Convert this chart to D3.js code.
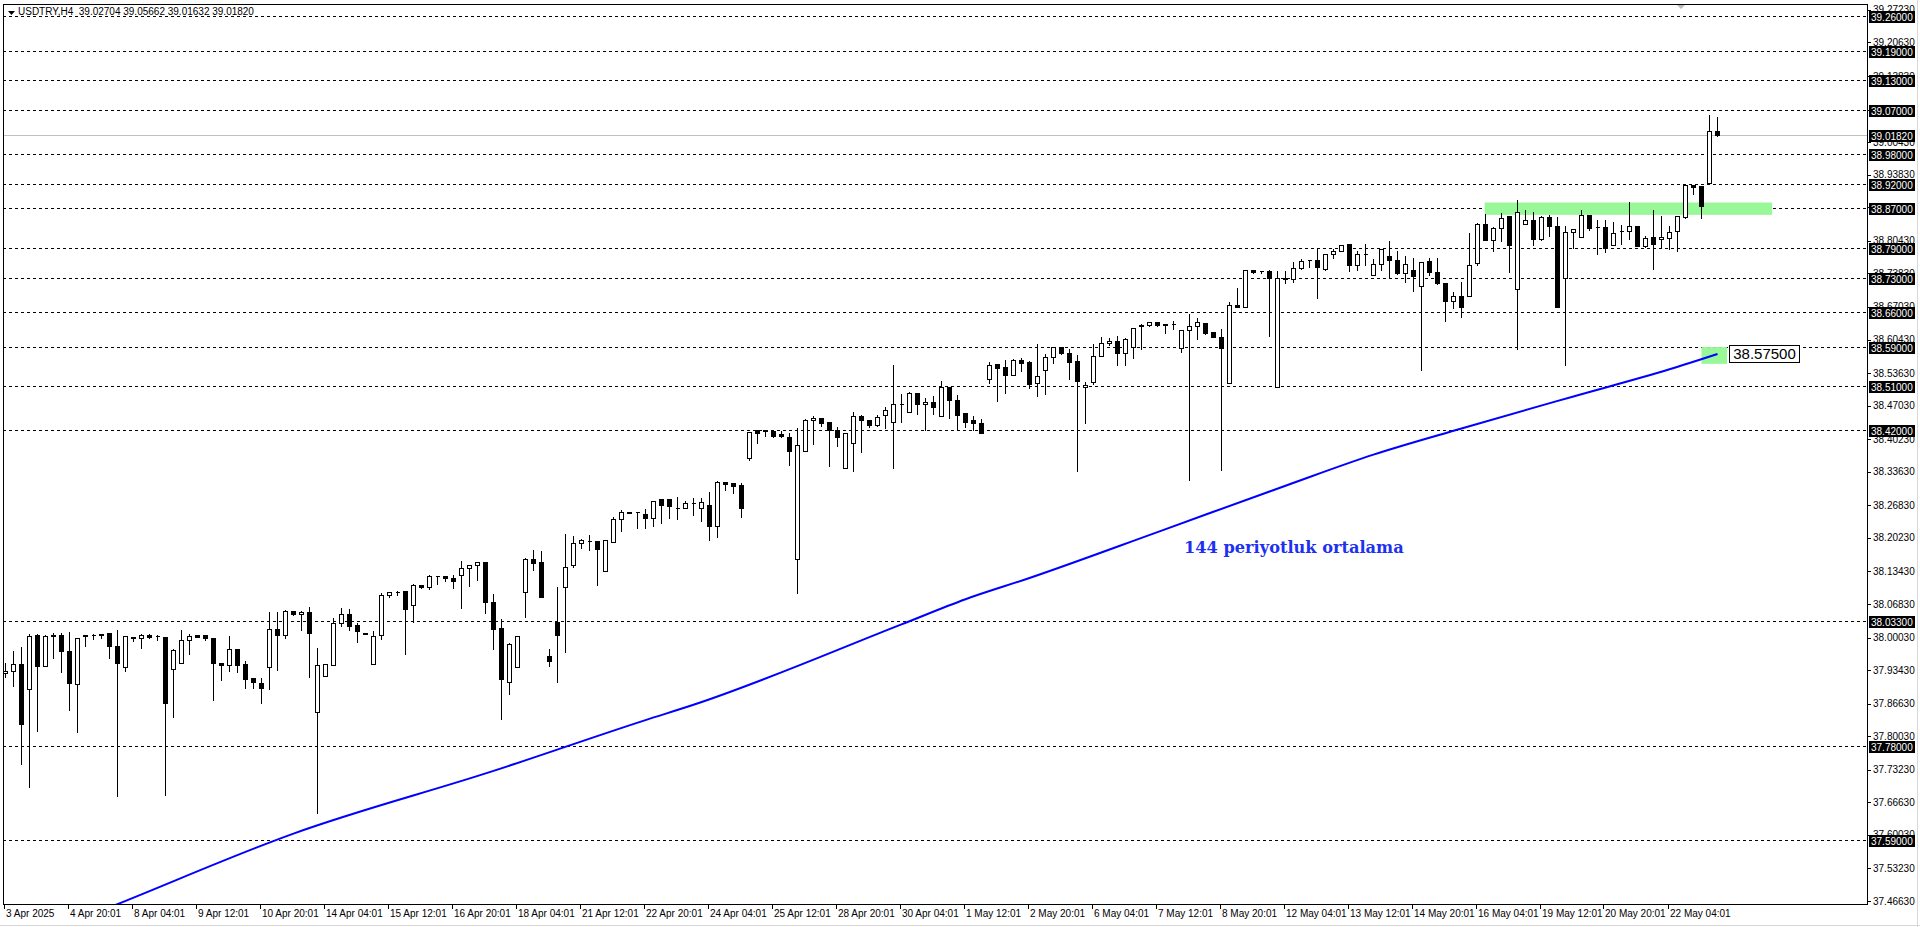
<!DOCTYPE html>
<html><head><meta charset="utf-8">
<script src="https://cdn.jsdelivr.net/npm/d3@7"></script>
<style>html,body{margin:0;padding:0;background:#fff;overflow:hidden}svg{display:block}</style>
</head><body><svg id="c" width="1920" height="927"></svg>
<script>
// ---------- DATA (USDTRY, H4) ----------
const symbolTitle = "USDTRY,H4";
const open = [
37.928,37.932,37.946,37.896,38.006,37.942,38.004,38.006,37.974,37.906,
38.004,38.005,38.008,38.009,37.984,37.940,38.002,38.000,38.005,38.003,
38.002,37.937,37.949,37.996,38.005,38.005,38.000,37.948,37.945,37.977,
37.946,37.918,37.909,37.940,38.018,38.006,38.055,38.048,38.052,37.850,
37.923,37.945,38.030,38.048,38.025,38.010,37.947,38.005,38.087,38.093,
38.094,38.067,38.107,38.102,38.125,38.125,38.121,38.127,38.142,38.148,
38.153,38.073,38.019,37.910,37.941,38.093,38.160,38.153,37.962,38.032,
38.102,38.148,38.192,38.196,38.196,38.136,38.194,38.241,38.255,38.254,
38.251,38.243,38.282,38.282,38.263,38.263,38.272,38.263,38.268,38.226,
38.316,38.313,38.309,38.364,38.420,38.418,38.419,38.412,38.407,38.159,
38.378,38.442,38.446,38.437,38.420,38.343,38.395,38.450,38.442,38.431,
38.451,38.438,38.474,38.458,38.495,38.474,38.478,38.450,38.509,38.482,
38.455,38.441,38.436,38.525,38.554,38.548,38.533,38.562,38.558,38.516,
38.543,38.568,38.590,38.576,38.560,38.509,38.518,38.570,38.598,38.602,
38.576,38.590,38.633,38.633,38.639,38.635,38.635,38.587,38.624,38.631,
38.637,38.619,38.610,38.517,38.675,38.671,38.745,38.743,38.743,38.509,
38.729,38.727,38.750,38.765,38.765,38.748,38.777,38.783,38.797,38.756,
38.777,38.736,38.758,38.773,38.766,38.740,38.746,38.712,38.764,38.742,
38.718,38.683,38.693,38.693,38.760,38.839,38.807,38.830,38.854,38.706,
38.839,38.846,38.809,38.852,38.835,38.728,38.823,38.813,38.856,38.832,
38.832,38.795,38.824,38.825,38.835,38.793,38.812,38.808,38.811,38.825,
38.853,38.917,38.915,38.921,39.02704];
const high = [
37.950,37.976,37.984,38.009,38.009,38.008,38.011,38.011,38.013,38.001,
38.006,38.009,38.009,38.010,38.018,38.006,38.003,38.010,38.009,38.008,
38.003,37.980,38.017,38.010,38.006,38.008,38.001,37.948,38.006,37.978,
37.954,37.921,37.921,38.055,38.055,38.058,38.056,38.056,38.065,37.982,
37.947,38.042,38.062,38.061,38.031,38.010,38.016,38.092,38.094,38.096,
38.096,38.111,38.108,38.130,38.128,38.128,38.129,38.157,38.150,38.156,
38.155,38.091,38.039,37.992,38.004,38.164,38.179,38.177,37.980,38.105,
38.212,38.209,38.203,38.211,38.198,38.199,38.246,38.261,38.257,38.256,
38.262,38.280,38.283,38.283,38.288,38.280,38.285,38.285,38.297,38.319,
38.317,38.315,38.315,38.417,38.421,38.421,38.420,38.420,38.416,38.428,
38.446,38.451,38.447,38.439,38.430,38.415,38.459,38.453,38.443,38.454,
38.469,38.554,38.495,38.499,38.498,38.487,38.491,38.522,38.510,38.493,
38.457,38.451,38.446,38.560,38.555,38.564,38.566,38.568,38.562,38.598,
38.576,38.591,38.591,38.588,38.575,38.520,38.597,38.611,38.610,38.613,
38.609,38.628,38.637,38.641,38.640,38.636,38.643,38.625,38.659,38.650,
38.639,38.622,38.628,38.683,38.710,38.747,38.746,38.746,38.748,38.745,
38.745,38.764,38.769,38.767,38.791,38.778,38.789,38.797,38.798,38.785,
38.799,38.769,38.790,38.807,38.785,38.775,38.771,38.763,38.771,38.771,
38.719,38.702,38.723,38.822,38.843,38.860,38.834,38.862,38.857,38.890,
38.868,38.864,38.856,38.858,38.854,38.837,38.830,38.868,38.857,38.848,
38.849,38.844,38.839,38.885,38.836,38.816,38.868,38.856,38.836,38.855,
38.919,38.918,38.916,39.061,39.05662];
const low = [
37.920,37.903,37.744,37.697,37.810,37.942,37.959,37.930,37.854,37.808,
37.983,37.998,38.000,37.959,37.679,37.932,37.993,37.979,37.999,37.996,
37.681,37.839,37.949,37.967,38.001,37.996,37.874,37.915,37.933,37.931,
37.898,37.898,37.868,37.896,37.935,38.000,38.046,38.016,37.920,37.645,
37.923,37.945,38.023,38.015,37.991,38.007,37.947,37.997,38.082,38.086,
37.967,38.032,38.100,38.098,38.109,38.115,38.100,38.060,38.104,38.116,
38.050,37.977,37.835,37.885,37.941,38.042,38.137,38.082,37.942,37.910,
37.971,38.143,38.182,38.178,38.107,38.136,38.194,38.217,38.252,38.222,
38.222,38.226,38.232,38.242,38.240,38.263,38.248,38.236,38.199,38.205,
38.299,38.293,38.244,38.361,38.395,38.409,38.407,38.407,38.350,38.090,
38.378,38.393,38.429,38.348,38.389,38.343,38.338,38.376,38.428,38.429,
38.425,38.344,38.437,38.458,38.453,38.420,38.453,38.450,38.445,38.420,
38.428,38.420,38.415,38.517,38.480,38.496,38.533,38.541,38.507,38.490,
38.494,38.557,38.574,38.524,38.338,38.435,38.515,38.570,38.593,38.553,
38.553,38.567,38.586,38.631,38.632,38.618,38.626,38.579,38.320,38.606,
38.616,38.610,38.340,38.517,38.670,38.671,38.740,38.740,38.612,38.509,
38.718,38.721,38.748,38.752,38.689,38.746,38.769,38.783,38.744,38.746,
38.756,38.736,38.746,38.728,38.737,38.720,38.703,38.543,38.736,38.716,
38.642,38.669,38.650,38.693,38.756,38.807,38.784,38.804,38.741,38.586,
38.839,38.796,38.806,38.814,38.670,38.553,38.789,38.813,38.827,38.777,
38.782,38.795,38.797,38.809,38.793,38.791,38.748,38.792,38.787,38.784,
38.851,38.899,38.850,38.921,39.01632];
const close = [
37.932,37.946,37.825,38.004,37.942,38.004,38.005,37.973,37.908,38.000,
38.005,38.006,38.005,37.983,37.949,38.004,37.999,38.006,38.001,38.003,
37.867,37.975,37.996,38.003,38.002,37.999,37.949,37.945,37.977,37.945,
37.916,37.910,37.898,38.018,38.006,38.054,38.048,38.052,38.010,37.945,
37.947,38.030,38.048,38.023,38.013,38.007,38.004,38.087,38.093,38.093,
38.058,38.107,38.102,38.125,38.125,38.121,38.115,38.142,38.148,38.153,
38.072,38.017,37.916,37.988,38.004,38.160,38.151,38.082,37.952,38.005,
38.144,38.192,38.197,38.196,38.180,38.198,38.241,38.255,38.253,38.254,
38.243,38.278,38.269,38.267,38.262,38.274,38.272,38.276,38.226,38.316,
38.311,38.307,38.263,38.416,38.415,38.420,38.409,38.409,38.378,38.391,
38.442,38.446,38.435,38.420,38.407,38.414,38.450,38.442,38.431,38.448,
38.462,38.474,38.474,38.495,38.474,38.478,38.468,38.509,38.482,38.451,
38.437,38.435,38.415,38.553,38.547,38.533,38.562,38.557,38.515,38.531,
38.568,38.590,38.576,38.559,38.520,38.513,38.570,38.598,38.602,38.576,
38.606,38.627,38.631,38.639,38.633,38.633,38.635,38.624,38.631,38.639,
38.618,38.610,38.588,38.675,38.670,38.745,38.741,38.743,38.729,38.728,
38.726,38.750,38.764,38.765,38.752,38.777,38.783,38.796,38.756,38.777,
38.777,38.758,38.787,38.766,38.739,38.758,38.733,38.762,38.741,38.718,
38.683,38.693,38.670,38.756,38.839,38.807,38.830,38.850,38.795,38.862,
38.846,38.808,38.852,38.835,38.670,38.823,38.829,38.856,38.831,38.832,
38.790,38.821,38.825,38.835,38.793,38.811,38.798,38.812,38.823,38.854,
38.917,38.913,38.875,39.027,39.01820];

// time-axis labels (one every 8 bars)
const xLabels = ["3 Apr 2025","4 Apr 20:01","8 Apr 04:01","9 Apr 12:01","10 Apr 20:01","14 Apr 04:01",
 "15 Apr 12:01","16 Apr 20:01","18 Apr 04:01","21 Apr 12:01","22 Apr 20:01","24 Apr 04:01",
 "25 Apr 12:01","28 Apr 20:01","30 Apr 04:01","1 May 12:01","2 May 20:01","6 May 04:01",
 "7 May 12:01","8 May 20:01","12 May 04:01","13 May 12:01","14 May 20:01","16 May 04:01",
 "19 May 12:01","20 May 20:01","22 May 04:01"];
const xLabelStep = 8;

// price scale labels
const priceTicks = [39.2723,39.2063,39.1383,39.0703,39.0043,38.9383,38.8723,38.8043,38.7383,38.6703,
 38.6043,38.5363,38.4703,38.4023,38.3363,38.2683,38.2023,38.1343,38.0683,38.0003,37.9343,37.8663,
 37.8003,37.7323,37.6663,37.6003,37.5323,37.4663];

// horizontal levels (dashed)
const levels = [39.26,39.19,39.13,39.07,38.98,38.92,38.87,38.79,38.73,38.66,38.59,38.51,38.42,38.033,37.78,37.59];
const lastPrice = 39.0182;

// 144-period moving average, read at bar positions
const maBar = [10,14,36,61,80,86,112,120,128,144,160,171,182,196,208,214];
const maVal = [37.434,37.460,37.603,37.730,37.833,37.864,38.027,38.078,38.121,38.214,38.308,38.371,38.424,38.489,38.544,38.575];
const maText = "144 periyotluk ortalama";
const maLabel = 38.575;

// highlighted zones: [barFrom, barTo, priceTop, priceBottom]
const zoneFrom = [184.9, 212.0];
const zoneTo   = [220.8, 215.2];
const zoneTop  = [38.882, 38.589];
const zoneBot  = [38.857, 38.555];

// ---------- LAYOUT ----------
const L = 3, R = 1867, T = 4, B = 904;
const svg = d3.select("#c");
const FONT = "'Liberation Sans', Arial, sans-serif";
const x = d3.scaleLinear().domain([0, 232]).range([5.5, 5.5 + 8 * 232]);
const y = d3.scaleLinear().domain([37.59, 39.26]).range([840, 16]);
const py = v => Math.round(y(v)) + 0.5;

svg.append("rect").attr("width",1920).attr("height",927).attr("fill","#fff");
svg.append("defs").append("clipPath").attr("id","plot")
  .append("rect").attr("x",L).attr("y",T).attr("width",R-L).attr("height",B-T);
const g = svg.append("g").attr("clip-path","url(#plot)");

// current price line
g.append("line").attr("x1",L).attr("x2",R).attr("y1",py(lastPrice)).attr("y2",py(lastPrice))
 .attr("stroke","#c0c0c0").attr("stroke-width",1);

// dashed levels
g.selectAll("line.lv").data(levels).join("line").attr("class","lv")
 .attr("x1",L).attr("x2",R).attr("y1",d=>py(d)).attr("y2",d=>py(d))
 .attr("stroke","#000").attr("stroke-width",1).attr("stroke-dasharray","3,3")
 .attr("shape-rendering","crispEdges");

// zones
g.selectAll("rect.zone").data(zoneFrom).join("rect").attr("class","zone")
 .attr("x",(d,i)=>x(zoneFrom[i])).attr("width",(d,i)=>x(zoneTo[i])-x(zoneFrom[i]))
 .attr("y",(d,i)=>y(zoneTop[i])).attr("height",(d,i)=>y(zoneBot[i])-y(zoneTop[i]))
 .attr("fill","#98f898");

// candles
const n = Math.min(open.length, high.length, low.length, close.length);
const idx = d3.range(n);
const cg = g.append("g").attr("shape-rendering","crispEdges");
cg.selectAll("line.wick").data(idx).join("line").attr("class","wick")
 .attr("x1",i=>x(i)).attr("x2",i=>x(i))
 .attr("y1",i=>py(high[i])).attr("y2",i=>py(low[i]))
 .attr("stroke","#000").attr("stroke-width",1);
cg.selectAll("path.body").data(idx).join("path").attr("class","body")
 .attr("d",i=>{
   const x0 = x(i)-2, x1 = x(i)+2;
   const y0 = py(Math.max(open[i],close[i])), y1 = py(Math.min(open[i],close[i]));
   return `M${x0},${y0}H${x1}V${y1}H${x0}Z`;
 })
 .attr("fill",i=>close[i] < open[i] ? "#000" : "#fff")
 .attr("stroke","#000").attr("stroke-width",1);

// moving average
const maLine = d3.line().x(d=>x(d[0])).y(d=>y(d[1])).curve(d3.curveMonotoneX);
g.append("path").datum(maBar.map((b,i)=>[b,maVal[i]]))
 .attr("d",maLine).attr("fill","none").attr("stroke","#0000ff").attr("stroke-width",2);

// MA annotation
svg.append("text").attr("x",1184).attr("y",553).text(maText)
 .attr("font-family","'DejaVu Serif', serif").attr("font-weight","bold")
 .attr("font-size",16.2).attr("fill","#2030f0");

// value box at the end of MA
const bx = x(215.3)+1, byc = y(maLabel);
svg.append("rect").attr("x",Math.round(bx)+0.5).attr("y",Math.round(byc-8.5)+0.5).attr("width",70).attr("height",17)
 .attr("fill","#fff").attr("stroke","#000").attr("stroke-width",1);
svg.append("text").attr("x",Math.round(bx)+35.5).attr("y",byc+5.5).attr("text-anchor","middle")
 .attr("font-family",FONT).attr("font-size",15).attr("fill","#000").text(maLabel.toFixed(5));

// frame
svg.append("rect").attr("x",L+0.5).attr("y",T+0.5).attr("width",R-L).attr("height",B-T)
 .attr("fill","none").attr("stroke","#000").attr("stroke-width",1);

// right price axis
const ax = svg.append("g").attr("shape-rendering","crispEdges");
ax.selectAll("line.pt").data(priceTicks).join("line").attr("class","pt")
 .attr("x1",R).attr("x2",R+4).attr("y1",d=>py(d)).attr("y2",d=>py(d)).attr("stroke","#000");
svg.selectAll("text.pt").data(priceTicks).join("text").attr("class","pt")
 .attr("x",R+6).attr("y",d=>y(d)+3.5).text(d=>d.toFixed(5))
 .attr("font-family",FONT).attr("font-size",10).attr("fill","#000");

const boxLevels = levels.concat([lastPrice]);
svg.selectAll("rect.lb").data(boxLevels).join("rect").attr("class","lb")
 .attr("x",R+2).attr("y",d=>Math.round(y(d))-5).attr("width",46).attr("height",12).attr("fill","#000");
svg.selectAll("text.lb").data(boxLevels).join("text").attr("class","lb")
 .attr("x",R+4).attr("y",d=>Math.round(y(d))+4.5).text(d=>d.toFixed(5))
 .attr("font-family",FONT).attr("font-size",10).attr("fill","#fff");

// time axis
const xt = xLabels.map((s,k)=>({s, b:k*xLabelStep}));
ax.selectAll("line.xt").data(xt).join("line").attr("class","xt")
 .attr("x1",d=>Math.round(x(d.b))-1.5).attr("x2",d=>Math.round(x(d.b))-1.5).attr("y1",B).attr("y2",B+5).attr("stroke","#000");
svg.selectAll("text.xt").data(xt).join("text").attr("class","xt")
 .attr("x",d=>Math.round(x(d.b))).attr("y",917).text(d=>d.s)
 .attr("font-family",FONT).attr("font-size",10).attr("fill","#000");

// title
svg.append("path").attr("d","M8,11H15L11.5,15Z").attr("fill","#000");
svg.append("text").attr("x",18).attr("y",15).attr("font-family",FONT).attr("font-size",10).attr("fill","#000")
 .text(`${symbolTitle}  ${open[n-1].toFixed(5)} ${high[n-1].toFixed(5)} ${low[n-1].toFixed(5)} ${close[n-1].toFixed(5)}`)
 .attr("xml:space","preserve");
// shift marker
svg.append("path").attr("d","M1677,5H1685L1681,9Z").attr("fill","#bbb");
// window borders
svg.append("line").attr("x1",0).attr("x2",1920).attr("y1",925.5).attr("y2",925.5).attr("stroke","#d8d8d8");
svg.append("line").attr("x1",1917.5).attr("x2",1917.5).attr("y1",0).attr("y2",927).attr("stroke","#d8d8d8");
</script></body></html>
